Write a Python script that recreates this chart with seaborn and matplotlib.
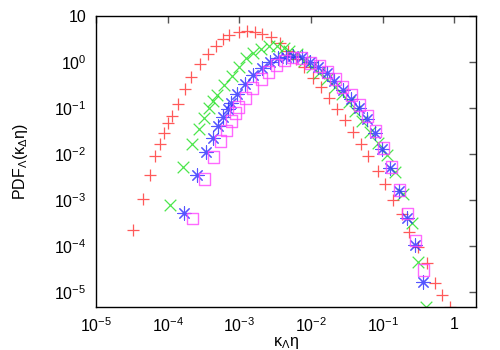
import numpy as np
import pandas as pd
import seaborn as sns
import matplotlib.pyplot as plt
from matplotlib.ticker import FixedLocator, FixedFormatter, NullLocator

# red "+" series
red_x = [3.3e-5, 4.5e-5, 5.6e-5, 6.6e-5, 7.8e-5, 8.9e-5, 1.0e-4, 1.14e-4, 1.39e-4, 1.74e-4,
         2.1e-4, 2.8e-4, 3.6e-4, 4.7e-4, 5.9e-4, 7.1e-4, 9.8e-4, 1.27e-3, 1.64e-3, 2.1e-3,
         2.8e-3, 3.65e-3, 4.7e-3, 6.1e-3, 7.9e-3, 1.05e-2, 1.36e-2, 1.76e-2, 2.27e-2, 3.0e-2,
         3.9e-2, 4.9e-2, 6.3e-2, 8.5e-2, 0.109, 0.141, 0.183, 0.236, 0.315, 0.42,
         0.54, 0.68, 0.88]
red_y = [2.2e-4, 1.05e-3, 3.5e-3, 9.0e-3, 1.65e-2, 2.9e-2, 4.7e-2, 6.7e-2, 0.122, 0.259,
         0.47, 0.9, 1.49, 2.23, 3.16, 3.86, 4.5, 4.7, 4.5, 4.06,
         3.5, 2.6, 1.73, 1.16, 0.78, 0.45, 0.286, 0.165, 0.095, 0.055,
         0.030, 0.0165, 9.0e-3, 4.3e-3, 2.2e-3, 1.0e-3, 5.0e-4, 2.0e-4, 9.5e-5, 4.3e-5,
         1.57e-5, 8.6e-6, 4.8e-6]

# green "x" series
green_x = [1.07e-4, 1.63e-4, 2.17e-4, 2.72e-4, 3.19e-4, 3.75e-4, 4.27e-4, 4.84e-4, 6.07e-4, 7.8e-4,
           9.8e-4, 1.23e-3, 1.54e-3, 1.99e-3, 2.56e-3, 3.32e-3, 4.15e-3, 5.0e-3, 6.3e-3, 7.9e-3,
           1.02e-2, 1.28e-2, 1.65e-2, 2.13e-2, 2.67e-2, 3.34e-2, 4.05e-2, 5.07e-2, 6.55e-2, 8.5e-2,
           0.113, 0.146, 0.189, 0.252, 0.315, 0.407]
green_y = [7.8e-4, 5.2e-3, 1.65e-2, 3.5e-2, 6.1e-2, 0.1, 0.142, 0.192, 0.316, 0.50,
           0.78, 1.22, 1.57, 1.92, 2.23, 2.23, 2.02, 1.73, 1.49, 1.05,
           0.78, 0.58, 0.43, 0.286, 0.20, 0.135, 0.086, 0.052, 0.030, 0.0173,
           9.5e-3, 4.1e-3, 1.35e-3, 3.2e-4, 4.5e-5, 4.8e-6]

# blue asterisk series
blue_x = [1.68e-4, 2.55e-4, 3.4e-4, 4.27e-4, 5.0e-4, 5.9e-4, 6.9e-4, 7.6e-4, 9.2e-4, 1.19e-3,
          1.54e-3, 2.05e-3, 2.65e-3, 3.43e-3, 4.43e-3, 5.55e-3, 7.4e-3, 9.6e-3, 1.24e-2, 1.65e-2,
          2.07e-2, 2.75e-2, 3.56e-2, 4.6e-2, 6.1e-2, 7.7e-2, 9.9e-2, 0.128, 0.171, 0.221,
          0.286, 0.37]
blue_y = [5.2e-4, 3.5e-3, 1.1e-2, 2.23e-2, 4.06e-2, 6.4e-2, 0.095, 0.128, 0.20, 0.333,
          0.52, 0.74, 1.0, 1.22, 1.28, 1.35, 1.28, 1.0, 0.78, 0.58,
          0.386, 0.246, 0.157, 0.10, 0.058, 0.0286, 0.0128, 5.0e-3, 1.57e-3, 4.1e-4,
          1.05e-4, 1.65e-5]

# magenta square series
pink_x = [2.24e-4, 3.3e-4, 4.4e-4, 5.5e-4, 6.7e-4, 7.8e-4, 8.9e-4, 9.8e-4, 1.23e-3, 1.54e-3,
          2.05e-3, 2.56e-3, 3.32e-3, 4.28e-3, 5.55e-3, 7.4e-3, 9.9e-3, 1.32e-2, 1.70e-2, 2.2e-2,
          2.75e-2, 3.67e-2, 4.75e-2, 6.1e-2, 7.9e-2, 0.103, 0.133, 0.171, 0.221, 0.286,
          0.37]
pink_y = [3.9e-4, 2.86e-3, 8.6e-3, 1.92e-2, 3.3e-2, 5.2e-2, 7.8e-2, 0.105, 0.165, 0.272,
          0.43, 0.61, 0.86, 1.10, 1.28, 1.22, 0.95, 0.82, 0.61, 0.43,
          0.286, 0.192, 0.116, 0.067, 0.0316, 0.0135, 5.2e-3, 1.65e-3, 5.0e-4, 1.29e-4,
          3.0e-5]

x_ticks = [1e-5, 1e-4, 1e-3, 1e-2, 1e-1, 1]
x_labels = ['$10^{-5}$', '$10^{-4}$', '$10^{-3}$', '$10^{-2}$', '$10^{-1}$', '1']
y_ticks = [1e-5, 1e-4, 1e-3, 1e-2, 1e-1, 1, 10]
y_labels = ['$10^{-5}$', '$10^{-4}$', '$10^{-3}$', '$10^{-2}$', '$10^{-1}$', '$10^{0}$', '10']

sns.set_style('white')
plt.rcParams['font.family'] = ['Liberation Sans', 'DejaVu Sans']
plt.rcParams['mathtext.default'] = 'regular'

fig = plt.figure(figsize=(5, 3.5), dpi=100)
ax = fig.add_axes([0.192, 0.123, 0.760, 0.831])

sns.scatterplot(x=red_x, y=red_y, ax=ax, marker='+', s=75, color='#ff3030',
                linewidth=0.9, alpha=0.8, legend=False)
sns.scatterplot(x=green_x, y=green_y, ax=ax, marker='x', s=70, color='#20e020',
                linewidth=0.9, alpha=0.8, legend=False)
sns.scatterplot(x=blue_x, y=blue_y, ax=ax, marker=(8, 2, 0), s=90, color='#2a2aff',
                linewidth=0.8, alpha=0.8, legend=False)
sns.scatterplot(x=pink_x, y=pink_y, ax=ax, marker='s', s=65, facecolors='none',
                edgecolor='#ff44ff', linewidth=1.0, alpha=0.8, legend=False)

ax.set_xscale('log')
ax.set_yscale('log')
ax.set_xlim(1e-5, 2.0)
ax.set_ylim(4.7e-6, 10)

ax.xaxis.set_major_locator(FixedLocator(x_ticks))
ax.xaxis.set_major_formatter(FixedFormatter(x_labels))
ax.yaxis.set_major_locator(FixedLocator(y_ticks))
ax.yaxis.set_major_formatter(FixedFormatter(y_labels))
ax.xaxis.set_minor_locator(NullLocator())
ax.yaxis.set_minor_locator(NullLocator())
ax.tick_params(direction='in', length=5, width=1, color='#555555', top=True, right=True,
               labelsize=11.5, labelcolor='black', pad=7)

for sp in ax.spines.values():
    sp.set_color('black')
    sp.set_linewidth(1)

ax.set_xlabel(r'$\kappa_{\Lambda}\eta$', fontsize=11.5, labelpad=0, color='black')
ax.set_ylabel(r'PDF$_{\Lambda}$($\kappa_{\Delta}\eta$)', fontsize=11.5, labelpad=17,
              color='black')

fig.savefig('out.png', dpi=100)
